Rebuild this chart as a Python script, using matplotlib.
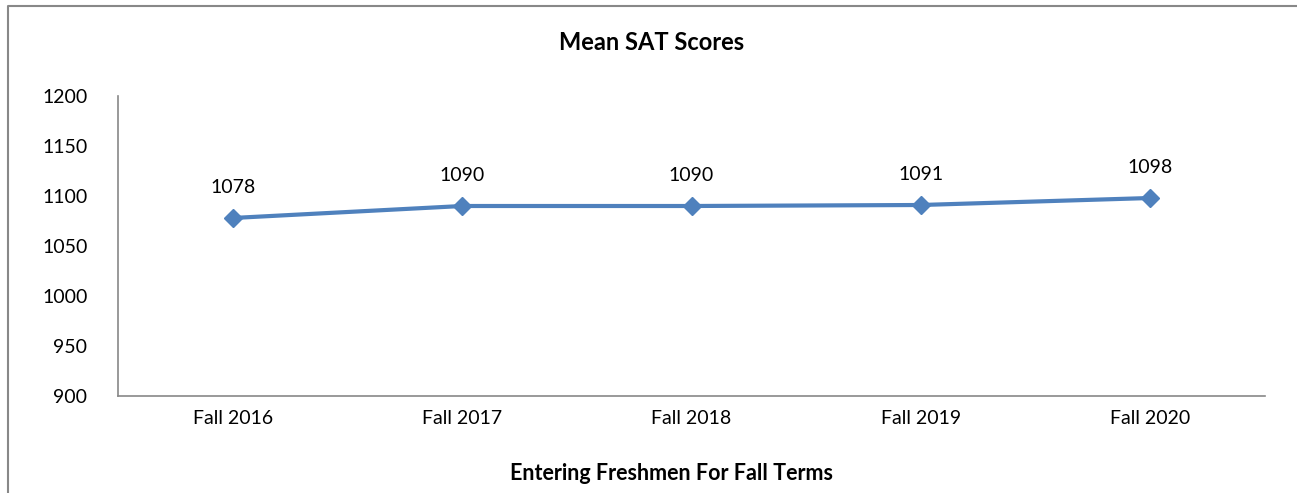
import matplotlib.pyplot as plt
from matplotlib.lines import Line2D

terms = ['Fall 2016', 'Fall 2017', 'Fall 2018', 'Fall 2019', 'Fall 2020']
scores = [1078, 1090, 1090, 1091, 1098]
yticks = [900, 950, 1000, 1050, 1100, 1150, 1200]

plt.rcParams['font.family'] = ['Lato', 'DejaVu Sans']

fig = plt.figure(figsize=(12.97, 4.93), dpi=100)
ax = fig.add_axes([118 / 1297, 1 - 396 / 493, (1265 - 118) / 1297, 300 / 493])

x = list(range(len(terms)))
ax.plot(x, scores, color='#4F81BD', linewidth=3, marker='D', markersize=9,
        markerfacecolor='#4F81BD', markeredgecolor='#4F81BD')
for xi, v in zip(x, scores):
    ax.annotate(str(v), (xi, v), xytext=(0, 16), textcoords='offset points',
                ha='center', va='bottom', fontsize=14)

ax.set_xlim(-0.5, len(terms) - 0.5)
ax.set_ylim(900, 1200)
ax.set_xticks(x)
ax.set_xticklabels(terms, fontsize=14)
ax.set_yticks(yticks)
ax.set_yticklabels([str(t) for t in yticks], fontsize=14)
ax.tick_params(length=0, pad=10)
ax.tick_params(axis='y', pad=22)
for s in ['top', 'right']:
    ax.spines[s].set_visible(False)
for s in ['left', 'bottom']:
    ax.spines[s].set_color('#888888')
    ax.spines[s].set_linewidth(1.2)

fig.text(652 / 1297, 1 - 43 / 493, 'Mean SAT Scores', ha='center', va='center',
         fontsize=17, fontweight='bold')
fig.text(672 / 1297, 1 - 474 / 493, 'Entering Freshmen For Fall Terms', ha='center',
         va='center', fontsize=15.5, fontweight='bold')

# outer chart border: only left and top edges are visible in the crop
fig.lines.append(Line2D([8 / 1297, 8 / 1297, 1], [0, 1 - 6 / 493, 1 - 6 / 493],
                        transform=fig.transFigure, color='#888888', linewidth=1.5))

fig.savefig('out.png', dpi=100)
